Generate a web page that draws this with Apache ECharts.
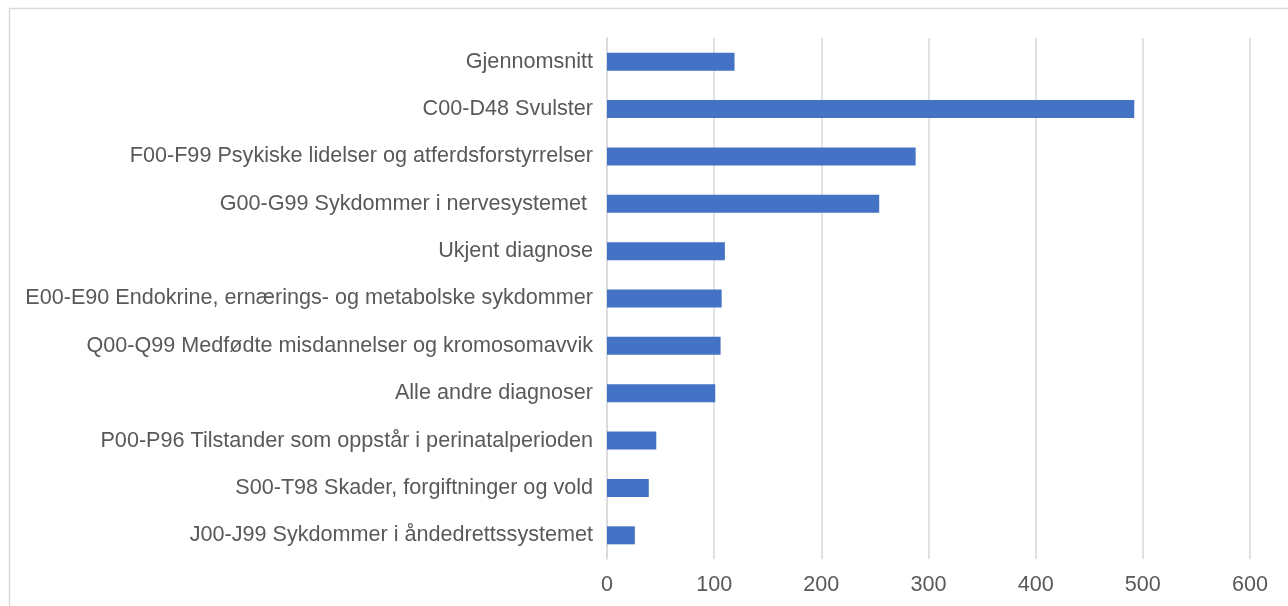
<!DOCTYPE html>
<html>
<head>
<meta charset="utf-8">
<script src="https://cdn.jsdelivr.net/npm/echarts@6/dist/echarts.min.js"></script>
<style>
  html, body { margin: 0; padding: 0; background: #fff; }
  #chart { width: 1288px; height: 606px; }
</style>
</head>
<body>
<div id="chart"></div>
<script>
// kategorier, ovenfra og ned
const categories = [
  'Gjennomsnitt',
  'C00-D48 Svulster',
  'F00-F99 Psykiske lidelser og atferdsforstyrrelser',
  'G00-G99 Sykdommer i nervesystemet ',
  'Ukjent diagnose',
  'E00-E90 Endokrine, ernærings- og metabolske sykdommer',
  'Q00-Q99 Medfødte misdannelser og kromosomavvik',
  'Alle andre diagnoser',
  'P00-P96 Tilstander som oppstår i perinatalperioden',
  'S00-T98 Skader, forgiftninger og vold',
  'J00-J99 Sykdommer i åndedrettssystemet'
]
const values = [119, 492, 288, 254, 110, 107, 106, 101, 46, 39, 26]
const xTicks = [0, 100, 200, 300, 400, 500, 600]

const chart = echarts.init(document.getElementById('chart'))

const option = {
  animation: false,
  textStyle: { fontFamily: 'Liberation Sans, Arial, sans-serif' },
  graphic: [{
    type: 'rect',
    shape: { x: 9.5, y: 8.5, width: 1400, height: 700 },
    style: { fill: 'none', stroke: '#d9d9d9', lineWidth: 1.5 },
    silent: true
  }],
  grid: { left: 607, right: 38, top: 38, bottom: 47 },
  xAxis: {
    type: 'value',
    min: xTicks[0],
    max: xTicks[xTicks.length - 1],
    interval: 100,
    axisLine: { show: false },
    axisTick: { show: false },
    splitLine: { lineStyle: { color: '#d9d9d9', width: 1.5 } },
    axisLabel: { color: '#595959', fontSize: 21.6, margin: 15 }
  },
  yAxis: {
    type: 'category',
    inverse: true,
    data: categories,
    axisLine: { lineStyle: { color: '#d9d9d9', width: 1.5 } },
    axisTick: { show: false },
    axisLabel: { color: '#595959', fontSize: 21.6, margin: 14 }
  },
  series: [{
    type: 'bar',
    data: values,
    barWidth: 18,
    itemStyle: { color: '#4472c4' }
  }]
}

chart.setOption(option)
</script>
</body>
</html>
